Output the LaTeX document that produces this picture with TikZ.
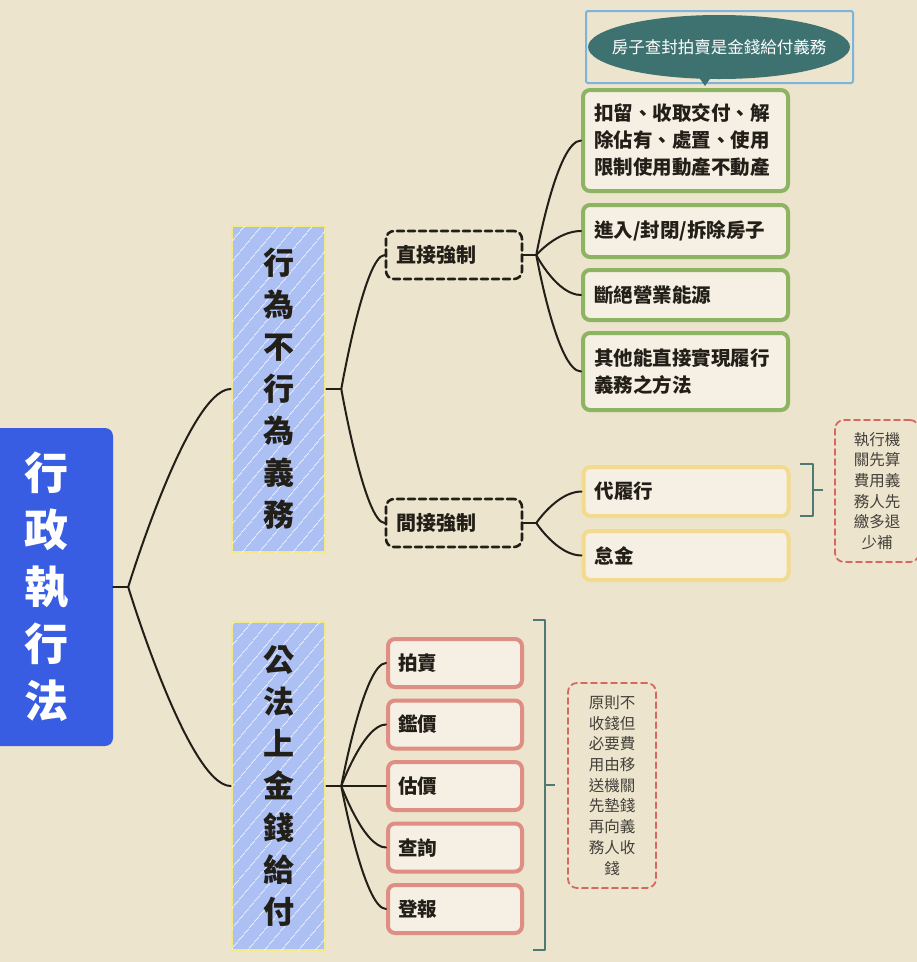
\documentclass[tikz,border=0pt]{standalone}
\usepackage{fontspec}
\setmainfont{Noto Sans CJK TC}
\usepackage{xcolor}
\usepackage{tikz}
\usetikzlibrary{shapes.geometric,patterns.meta}

\definecolor{paper}{RGB}{236,228,204}
\definecolor{ink}{RGB}{34,30,24}
\definecolor{rootblue}{RGB}{56,92,226}
\definecolor{lvlblue}{RGB}{172,192,244}
\definecolor{lvlrim}{RGB}{244,234,128}
\definecolor{leafgreen}{RGB}{140,180,98}
\definecolor{leafgold}{RGB}{243,218,142}
\definecolor{leafred}{RGB}{222,142,132}
\definecolor{notered}{RGB}{214,104,96}
\definecolor{captteal}{RGB}{62,114,112}
\definecolor{capblue}{RGB}{125,180,220}
\definecolor{bracketteal}{RGB}{78,122,115}

\begin{document}
\begin{tikzpicture}[x=1pt,y=-1pt,line cap=round,line join=round]
\tikzset{
    link/.style={draw=ink, line width=2pt},
    bracket/.style={draw=bracketteal, line width=2.4pt, line cap=butt},
    rootbox/.style={rectangle, rounded corners=8pt, fill=rootblue, text=white, align=center,
        font=\fontsize{44}{57}\selectfont\bfseries},
    lvlbox/.style={rectangle, fill=lvlblue, draw=lvlrim, line width=2.6pt, dash pattern=on 4pt off 1.5pt,
        postaction={pattern={Lines[angle=50,distance=13pt,line width=0.6pt]}, pattern color=white!80!lvlblue},
        minimum width=93, text=ink, align=center, font=\fontsize{31}{42}\selectfont\bfseries},
    midbox/.style={rectangle, rounded corners=8pt, draw=ink, line width=2.6pt, dash pattern=on 7pt off 4pt,
        fill=paper, minimum height=48, text width=116, inner xsep=10, align=left, text=ink,
        font=\fontsize{20}{24}\selectfont\bfseries},
    leafbox/.style={rectangle, rounded corners=7pt, line width=4pt, fill=paper!55!white,
        text width=183, inner xsep=11, align=left, text=ink, font=\fontsize{19.5}{27}\selectfont\bfseries},
    cashbox/.style={rectangle, rounded corners=7pt, line width=4pt, draw=leafred, fill=paper!55!white,
        minimum height=48, text width=114, inner xsep=10, align=left, text=ink,
        font=\fontsize{19.5}{24}\selectfont\bfseries},
    notebox/.style={rectangle, rounded corners=9pt, draw=notered, line width=1.8pt, dash pattern=on 6pt off 4pt,
        align=center, text=ink!85, font=\fontsize{15.5}{20.7}\selectfont},
}
\useasboundingbox (0,0) rectangle (917,962);
\clip (0,0) rectangle (917,962);
\fill[paper] (0,0) rectangle (917,962);

\node[rootbox, minimum width=133, minimum height=318] (root) at (46.5,587) {行\\政\\執\\行\\法};

\node[lvlbox, minimum height=326] (act) at (278.5,389) {行\\為\\不\\行\\為\\義\\務};
\node[lvlbox, minimum height=328] (cash) at (278.5,786) {公\\法\\上\\金\\錢\\給\\付};

\node[midbox] (direct) at (454,255) {直接強制};
\node[midbox] (indirect) at (454,523) {間接強制};

\node[leafbox, draw=leafgreen, minimum height=101] (g1) at (685.5,140.5) {扣留、收取交付、解\\除佔有、處置、使用\\限制使用動產不動產};
\node[leafbox, draw=leafgreen, minimum height=52] (g2) at (685.5,231) {進入/封閉/拆除房子};
\node[leafbox, draw=leafgreen, minimum height=50] (g3) at (685.5,295) {斷絕營業能源};
\node[leafbox, draw=leafgreen, minimum height=77] (g4) at (685.5,371.5) {其他能直接實現履行\\義務之方法};

\node[leafbox, draw=leafgold, minimum height=49] (y1) at (686,491.5) {代履行};
\node[leafbox, draw=leafgold, minimum height=49] (y2) at (686,555.5) {怠金};

\node[cashbox] (r1) at (455,663) {拍賣};
\node[cashbox] (r2) at (455,724.5) {鑑價};
\node[cashbox] (r3) at (455,786) {估價};
\node[cashbox] (r4) at (455,847.5) {查詢};
\node[cashbox] (r5) at (455,909) {登報};

\node[notebox, minimum width=84, minimum height=142] (n1) at (877,491) {執行機\\關先算\\費用義\\務人先\\繳多退\\少補};
\node[notebox, minimum width=88, minimum height=205] (n2) at (612,785.5) {原則不\\收錢但\\必要費\\用由移\\送機關\\先墊錢\\再向義\\務人收\\錢};

\node[rectangle, draw=capblue, line width=2pt, rounded corners=2pt, minimum width=267, minimum height=72] (cap) at (719.5,47) {};
\fill[captteal] (719,47) ellipse (131 and 32);
\fill[captteal] (698,76) -- (712,76) -- (705,86) -- cycle;
\node[text=white, font=\fontsize{16.5}{20}\selectfont] (capoval) at (719,47) {房子查封拍賣是金錢給付義務};

\draw[link] (root.east) -- ++(15,0) coordinate (rootj);
\draw[link] (rootj) .. controls (rootj) and ([xshift=-42]act.west) .. (act.west);
\draw[link] (rootj) .. controls (rootj) and ([xshift=-42]cash.west) .. (cash.west);

\draw[link] (act.east) -- ++(15,0) coordinate (actj);
\draw[link] (actj) .. controls (actj) and ([xshift=-20]direct.west) .. (direct.west);
\draw[link] (actj) .. controls (actj) and ([xshift=-20]indirect.west) .. (indirect.west);

\draw[link] (direct.east) -- ++(13,0) coordinate (directj);
\draw[link] (directj) .. controls (directj) and ([xshift=-24]g1.west) .. (g1.west);
\draw[link] (directj) .. controls (directj) and ([xshift=-24]g2.west) .. (g2.west);
\draw[link] (directj) .. controls (directj) and ([xshift=-24]g3.west) .. (g3.west);
\draw[link] (directj) .. controls (directj) and ([xshift=-24]g4.west) .. (g4.west);

\draw[link] (indirect.east) -- ++(13,0) coordinate (indirectj);
\draw[link] (indirectj) .. controls (indirectj) and ([xshift=-24]y1.west) .. (y1.west);
\draw[link] (indirectj) .. controls (indirectj) and ([xshift=-24]y2.west) .. (y2.west);

\draw[link] (cash.east) -- ++(15,0) coordinate (cashj);
\draw[link] (cashj) .. controls (cashj) and ([xshift=-22]r1.west) .. (r1.west);
\draw[link] (cashj) .. controls (cashj) and ([xshift=-22]r2.west) .. (r2.west);
\draw[link] (cashj) -- (r3.west);
\draw[link] (cashj) .. controls (cashj) and ([xshift=-22]r4.west) .. (r4.west);
\draw[link] (cashj) .. controls (cashj) and ([xshift=-22]r5.west) .. (r5.west);

\draw[bracket] (800,464) -- (813,464) -- (813,516) -- (800,516);
\draw[bracket] (813,490) -- (823,490);
\draw[bracket] (533,620) -- (545,620) -- (545,950) -- (533,950);
\draw[bracket] (545,785) -- (555,785);
\end{tikzpicture}
\end{document}
